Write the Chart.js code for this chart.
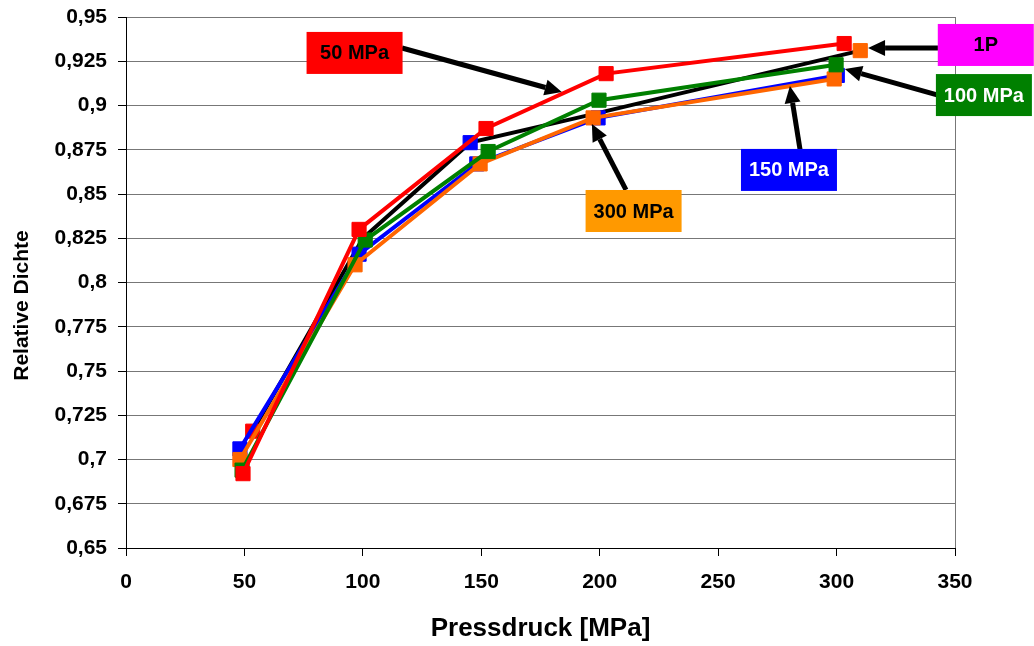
<!DOCTYPE html>
<html lang="de">
<head>
  <meta charset="UTF-8">
  <title>Relative Dichte</title>
  <script src="https://cdn.jsdelivr.net/npm/chart.js"></script>
  <style>
    body { margin: 0; background: #fff; }
    #wrap { width: 1034px; height: 646px; }
  </style>
</head>
<body>
  <div id="wrap"><canvas id="chart"></canvas></div>

  <script>
    // Pressdruck [MPa] und relative Dichte je Serie
    const druck1P = [53.5, 100, 145.3, 200, 310];
    const dichte1P = [0.716, 0.825, 0.879, 0.896, 0.931];

    const druck50 = [49.4, 98.4, 152, 202.7, 303.2];
    const dichte50 = [0.692, 0.830, 0.887, 0.918, 0.935];

    const druck100 = [49, 101, 152.9, 199.7, 299.8];
    const dichte100 = [0.694, 0.824, 0.874, 0.903, 0.923];

    const druck150 = [48.1, 98.4, 148.1, 199.3, 300.3];
    const dichte150 = [0.706, 0.816, 0.867, 0.893, 0.917];

    const druck300 = [48.1, 96.7, 149.5, 197.2, 299];
    const dichte300 = [0.700, 0.810, 0.867, 0.893, 0.915];

    const yTicks = [0.65, 0.675, 0.7, 0.725, 0.75, 0.775, 0.8, 0.825, 0.85, 0.875, 0.9, 0.925, 0.95];

    // Beschriftungen: Text, Box-Mitte, Pfeil (Start -> Spitze) in Datenkoordinaten
    const labelTexts = ["50 MPa", "1P", "100 MPa", "150 MPa", "300 MPa"];
    const labelColors = ["#ff0000", "#ff00ff", "#008000", "#0000ff", "#ff9900"];
    const labelTextColors = ["#000", "#000", "#fff", "#fff", "#000"];
    const labelPos = [[96.5, 0.9297], [363, 0.9342], [362.2, 0.9059], [279.9, 0.8636], [214.3, 0.8404]];
    const arrowFrom = [[116.5, 0.9325], [342.8, 0.9325], [342.8, 0.9059], [284.6, 0.8749], [211.1, 0.8523]];
    const arrowTo = [[184, 0.9076], [313.3, 0.9325], [303.5, 0.9206], [280.3, 0.911], [196.7, 0.8895]];

    const yTitle = "Relative Dichte";
    const yTitleCenter = 0.787; // etwas unterhalb der Mitte, wie im Original

    function pts(xs, ys) {
      return xs.map((x, i) => ({ x: x, y: ys[i] }));
    }

    function series(label, xs, ys, color, order) {
      return {
        label: label,
        data: pts(xs, ys),
        borderColor: color,
        backgroundColor: color,
        pointBackgroundColor: color,
        pointBorderColor: color,
        borderWidth: 4,
        pointStyle: "rect",
        pointRadius: 10,
        pointBorderWidth: 1,
        order: order
      };
    }

    const datasets = [
      series("50 MPa", druck50, dichte50, "#ff0000", 1),
      series("100 MPa", druck100, dichte100, "#008000", 2),
      series("300 MPa", druck300, dichte300, "#ff6600", 3),
      series("150 MPa", druck150, dichte150, "#0000ff", 4),
      {
        label: "1P",
        data: pts(druck1P, dichte1P),
        borderColor: "#000",
        borderWidth: 4,
        pointStyle: "rect",
        pointRadius: [10, 0, 10, 0, 10],
        pointBackgroundColor: ["#ff0000", "#000", "#0000ff", "#000", "#ff6600"],
        pointBorderColor: ["#ff0000", "#000", "#0000ff", "#000", "#ff6600"],
        pointBorderWidth: 1,
        order: 5
      }
    ];

    function drawArrow(ctx, x1, y1, x2, y2) {
      const ang = Math.atan2(y2 - y1, x2 - x1);
      const head = 17, half = 8;
      const bx = x2 - head * Math.cos(ang), by = y2 - head * Math.sin(ang);
      ctx.strokeStyle = "#000";
      ctx.lineWidth = 5;
      ctx.beginPath();
      ctx.moveTo(x1, y1);
      ctx.lineTo(bx, by);
      ctx.stroke();
      ctx.fillStyle = "#000";
      ctx.beginPath();
      ctx.moveTo(x2, y2);
      ctx.lineTo(bx + half * Math.sin(ang), by - half * Math.cos(ang));
      ctx.lineTo(bx - half * Math.sin(ang), by + half * Math.cos(ang));
      ctx.closePath();
      ctx.fill();
    }

    const fontFam = "'Liberation Sans', Arial, sans-serif";

    const labelPlugin = {
      id: "labels",
      afterDraw(chart) {
        const ctx = chart.ctx;
        const xs = chart.scales.x, ys = chart.scales.y;
        ctx.save();
        labelTexts.forEach((t, i) => {
          drawArrow(ctx,
            xs.getPixelForValue(arrowFrom[i][0]), ys.getPixelForValue(arrowFrom[i][1]),
            xs.getPixelForValue(arrowTo[i][0]), ys.getPixelForValue(arrowTo[i][1]));
        });
        ctx.font = "bold 20px " + fontFam;
        ctx.textAlign = "center";
        ctx.textBaseline = "middle";
        labelTexts.forEach((t, i) => {
          const cx = xs.getPixelForValue(labelPos[i][0]);
          const cy = ys.getPixelForValue(labelPos[i][1]);
          const w = 96, h = 42;
          ctx.fillStyle = labelColors[i];
          ctx.fillRect(cx - w / 2, cy - h / 2, w, h);
          ctx.fillStyle = labelTextColors[i];
          ctx.fillText(t, cx, cy + 1);
        });

        // y-Achsentitel
        ctx.translate(ys.left + 22, ys.getPixelForValue(yTitleCenter));
        ctx.rotate(-Math.PI / 2);
        ctx.fillStyle = "#000";
        ctx.font = "bold 21px " + fontFam;
        ctx.fillText(yTitle, 0, 0);
        ctx.restore();
      }
    };

    new Chart(document.getElementById("chart"), {
      type: "line",
      data: { datasets: datasets },
      options: {
        responsive: true,
        maintainAspectRatio: false,
        animation: false,
        layout: { padding: { top: 17, right: 79, left: 0, bottom: 0 } },
        plugins: { legend: { display: false }, tooltip: { enabled: false } },
        scales: {
          x: {
            type: "linear",
            min: 0,
            max: 350,
            ticks: { stepSize: 50, color: "#000", padding: 14, font: { family: fontFam, size: 21, weight: "bold" } },
            grid: {
              color: c => (c.tick && c.tick.value === 350 ? "#777" : "transparent"),
              tickColor: "#000",
              tickLength: 8
            },
            border: { color: "#000", width: 1 },
            title: {
              display: true,
              text: "Pressdruck [MPa]",
              color: "#000",
              font: { family: fontFam, size: 26, weight: "bold" },
              padding: { top: 8, bottom: 2 }
            },
            afterFit: s => { s.height = 98; }
          },
          y: {
            min: 0.65,
            max: 0.95,
            afterBuildTicks: s => { s.ticks = yTicks.map(v => ({ value: v })); },
            ticks: {
              color: "#000",
              padding: 11,
              font: { family: fontFam, size: 21, weight: "bold" },
              callback: v => String(Math.round(v * 1000) / 1000).replace(".", ",")
            },
            grid: { color: "#777", tickColor: "#000", tickLength: 8 },
            border: { color: "#000", width: 1 },
            title: { display: false },
            afterFit: s => { s.width = 126; s.paddingTop = 0; s.paddingBottom = 0; }
          }
        }
      },
      plugins: [labelPlugin]
    });
  </script>
</body>
</html>
